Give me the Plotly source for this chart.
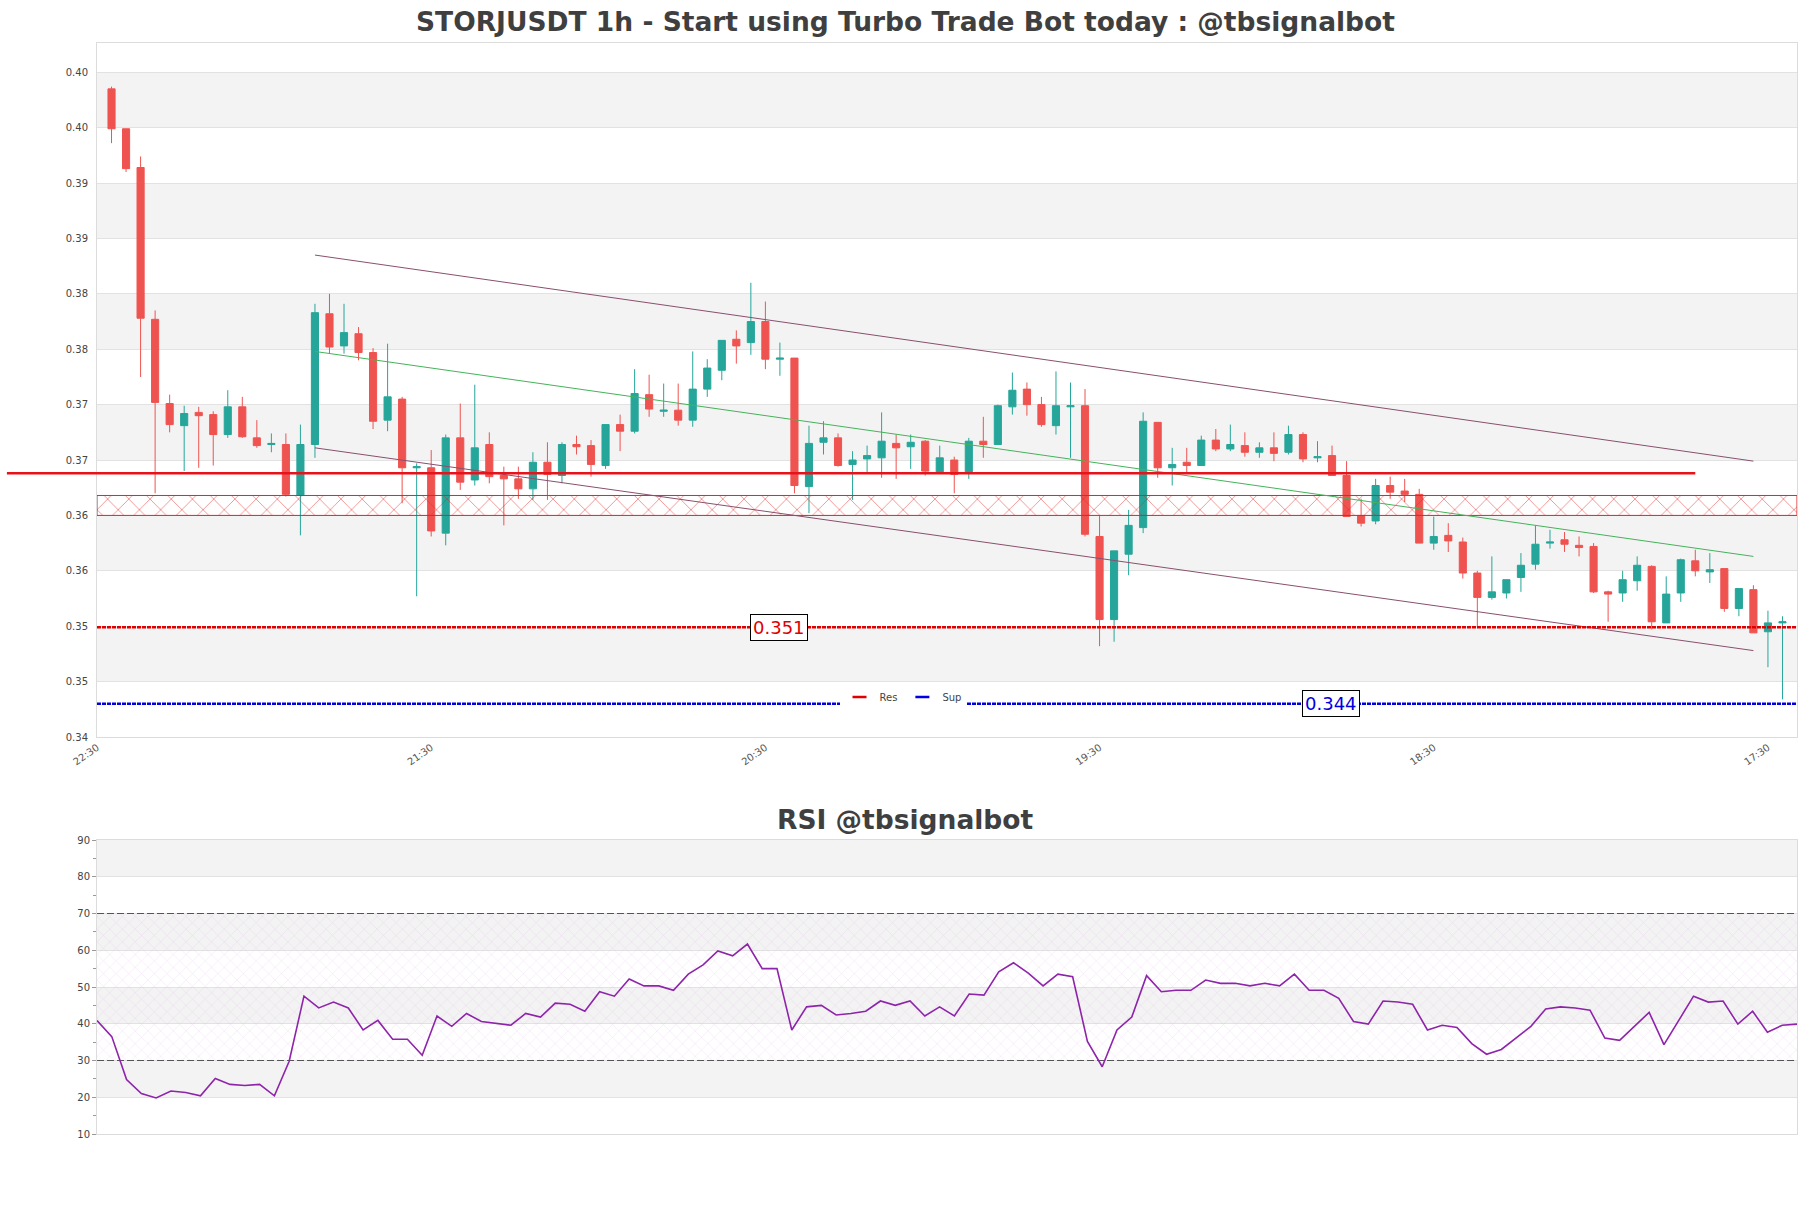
import numpy as np
import pandas as pd
import plotly.graph_objects as go

# ---------------- data ----------------
start_time = "2024-03-04 23:30"
opens = [0.3995,0.3959,0.3924,0.3787,0.3711,0.3691,0.3703,0.3701,0.3683,0.3708,
         0.3680,0.3674,0.3674,0.3628,0.3674,0.3792,0.3763,0.3774,0.3757,0.3696,
         0.3715,0.3653,0.3653,0.3594,0.3680,0.3642,0.3674,0.3646,0.3643,0.3634,
         0.3658,0.3646,0.3674,0.3673,0.3655,0.3692,0.3686,0.3719,0.3704,0.3705,
         0.3696,0.3724,0.3741,0.3769,0.3766,0.3785,0.3751,0.3752,0.3636,0.3676,
         0.3680,0.3656,0.3661,0.3662,0.3675,0.3672,0.3677,0.3649,0.3660,0.3648,
         0.3677,0.3674,0.3708,0.3724,0.3710,0.3691,0.3708,0.3709,0.3591,0.3516,
         0.3575,0.3599,0.3694,0.3653,0.3658,0.3655,0.3678,0.3670,0.3673,0.3667,
         0.3671,0.3667,0.3683,0.3662,0.3664,0.3646,0.3610,0.3605,0.3637,0.3632,
         0.3629,0.3585,0.3592,0.3586,0.3558,0.3536,0.3540,0.3554,0.3566,0.3585,
         0.3588,0.3583,0.3582,0.3541,0.3540,0.3551,0.3564,0.3513,0.3540,0.3569,
         0.3559,0.3562,0.3526,0.3543,0.3505,0.3513]
highs = [0.3997,0.3959,0.3934,0.3795,0.3719,0.3709,0.3708,0.3704,0.3723,0.3717,
         0.3696,0.3684,0.3684,0.3692,0.3801,0.3810,0.3801,0.3780,0.3761,0.3765,
         0.3717,0.3657,0.3669,0.3683,0.3711,0.3728,0.3685,0.3654,0.3654,0.3667,
         0.3676,0.3676,0.3682,0.3678,0.3692,0.3701,0.3742,0.3737,0.3729,0.3729,
         0.3758,0.3751,0.3768,0.3777,0.3820,0.3803,0.3766,0.3752,0.3691,0.3695,
         0.3684,0.3668,0.3673,0.3703,0.3683,0.3683,0.3678,0.3673,0.3663,0.3680,
         0.3699,0.3710,0.3739,0.3730,0.3717,0.3740,0.3730,0.3724,0.3610,0.3578,
         0.3615,0.3703,0.3694,0.3671,0.3671,0.3682,0.3688,0.3692,0.3685,0.3676,
         0.3685,0.3691,0.3685,0.3677,0.3673,0.3659,0.3625,0.3643,0.3645,0.3643,
         0.3634,0.3609,0.3603,0.3590,0.3560,0.3573,0.3552,0.3576,0.3601,0.3597,
         0.3595,0.3591,0.3585,0.3542,0.3560,0.3573,0.3565,0.3555,0.3571,0.3579,
         0.3576,0.3562,0.3544,0.3547,0.3524,0.3519]
lows = [0.3946,0.3920,0.3735,0.3630,0.3685,0.3650,0.3653,0.3655,0.3680,0.3680,
        0.3671,0.3667,0.3627,0.3592,0.3662,0.3756,0.3756,0.3750,0.3688,0.3686,
        0.3621,0.3537,0.3591,0.3583,0.3633,0.3637,0.3639,0.3601,0.3625,0.3624,
        0.3624,0.3639,0.3665,0.3645,0.3652,0.3668,0.3684,0.3699,0.3699,0.3691,
        0.3690,0.3717,0.3732,0.3747,0.3755,0.3742,0.3736,0.3630,0.3612,0.3665,
        0.3654,0.3624,0.3648,0.3644,0.3643,0.3652,0.3646,0.3649,0.3630,0.3643,
        0.3662,0.3674,0.3701,0.3700,0.3690,0.3683,0.3662,0.3591,0.3492,0.3496,
        0.3556,0.3594,0.3644,0.3637,0.3649,0.3655,0.3668,0.3668,0.3663,0.3662,
        0.3659,0.3665,0.3658,0.3658,0.3646,0.3609,0.3600,0.3602,0.3625,0.3622,
        0.3585,0.3579,0.3577,0.3553,0.3510,0.3534,0.3535,0.3541,0.3561,0.3580,
        0.3577,0.3573,0.3540,0.3514,0.3532,0.3542,0.3507,0.3513,0.3532,0.3555,
        0.3549,0.3523,0.3519,0.3504,0.3473,0.3444]
closes = [0.3959,0.3923,0.3788,0.3712,0.3692,0.3702,0.3700,0.3683,0.3708,0.3681,
          0.3673,0.3675,0.3629,0.3674,0.3793,0.3762,0.3775,0.3757,0.3695,0.3717,
          0.3653,0.3654,0.3596,0.3680,0.3640,0.3671,0.3645,0.3643,0.3634,0.3658,
          0.3647,0.3674,0.3672,0.3656,0.3692,0.3686,0.3720,0.3706,0.3705,0.3696,
          0.3724,0.3743,0.3768,0.3763,0.3785,0.3751,0.3752,0.3637,0.3675,0.3680,
          0.3655,0.3660,0.3664,0.3677,0.3671,0.3676,0.3650,0.3662,0.3647,0.3677,
          0.3674,0.3709,0.3723,0.3710,0.3692,0.3709,0.3709,0.3593,0.3516,0.3578,
          0.3601,0.3695,0.3653,0.3656,0.3655,0.3678,0.3670,0.3674,0.3667,0.3671,
          0.3666,0.3683,0.3661,0.3663,0.3646,0.3609,0.3603,0.3637,0.3631,0.3629,
          0.3585,0.3591,0.3587,0.3558,0.3536,0.3541,0.3552,0.3565,0.3584,0.3586,
          0.3584,0.3581,0.3541,0.3539,0.3552,0.3565,0.3514,0.3539,0.3570,0.3560,
          0.3561,0.3526,0.3544,0.3504,0.3513,0.3514]
rsi = [40.9,36.5,24.8,21.0,19.8,21.7,21.3,20.4,25.1,23.5,
       23.2,23.5,20.4,29.8,47.5,44.3,45.9,44.3,38.3,40.9,
       35.8,35.8,31.4,42.1,39.3,42.8,40.6,40.2,39.6,42.8,
       41.8,45.6,45.3,43.4,48.7,47.5,52.2,50.3,50.3,49.1,
       53.5,56.0,59.8,58.5,61.7,55.0,55.0,38.3,44.6,45.0,
       42.4,42.8,43.4,46.2,45.0,46.2,42.1,44.6,42.1,48.1,
       47.8,54.1,56.6,53.8,50.3,53.5,52.8,35.2,28.3,38.3,
       41.8,53.1,48.7,49.1,49.1,51.9,51.0,51.0,50.3,51.0,
       50.3,53.5,49.1,49.1,46.9,40.6,39.9,46.2,45.9,45.3,
       38.3,39.6,39.0,34.6,31.7,33.0,36.1,39.3,44.0,44.6,
       44.3,43.7,36.1,35.5,39.3,43.1,34.3,40.9,47.5,45.9,
       46.2,39.9,43.4,37.7,39.6,39.9]

y_tick_vals = [0.341,0.346,0.351,0.356,0.361,0.366,0.371,0.376,0.381,0.386,0.391,0.396,0.401]
y_tick_text = ["0.34","0.35","0.35","0.36","0.36","0.37","0.37","0.38","0.38","0.39","0.39","0.40","0.40"]
x_tick_text = ["22:30","21:30","20:30","19:30","18:30","17:30"]
rsi_tick_vals = [10,20,30,40,50,60,70,80,90]

res_level, res_label = 0.3509, "0.351"
sup_level, sup_label = 0.3440, "0.344"
zone_low, zone_high = 0.3610, 0.3628
hline_level = 0.3648
# trend channel: (candle index, price)
upper_line = [(14, 0.3845), (113, 0.3659)]
lower_line = [(14, 0.3671), (113, 0.3488)]
mid_line = [(14, 0.3758), (113, 0.3573)]

# ---------------- build ----------------
times = pd.date_range(start_time, periods=len(opens), freq="h")
hour = pd.Timedelta(hours=1)
x0_main = times[0] - hour
x1_main = times[-1] + hour

C_UP, C_DN = "#26a69a", "#ef5350"
FONT = "DejaVu Sans"
GRID = "#e2e2e2"
BAND = "#f3f3f3"

fig = go.Figure()

fig.add_trace(go.Candlestick(
    x=times, open=opens, high=highs, low=lows, close=closes,
    increasing=dict(line=dict(color=C_UP, width=1), fillcolor=C_UP),
    decreasing=dict(line=dict(color=C_DN, width=1), fillcolor=C_DN),
    showlegend=False, xaxis="x", yaxis="y", hoverinfo="skip"))

# hatched zone
fig.add_trace(go.Scatter(
    x=[x0_main, x1_main, x1_main, x0_main, x0_main],
    y=[zone_low, zone_low, zone_high, zone_high, zone_low],
    mode="lines", line=dict(color="#e52222", width=1),
    fill="toself", fillcolor="rgba(0,0,0,0)",
    fillpattern=dict(shape="x", fgcolor="#e52222", bgcolor="rgba(255,255,255,0)", size=15, solidity=0.12),
    showlegend=False, hoverinfo="skip"))

# trend lines
for pts, col in [(upper_line, "#8a4f6e"), (lower_line, "#8a4f6e"), (mid_line, "#45b35a")]:
    fig.add_trace(go.Scatter(x=[times[pts[0][0]], times[pts[1][0]]], y=[pts[0][1], pts[1][1]],
                             mode="lines", line=dict(color=col, width=1), showlegend=False, hoverinfo="skip"))

# res / sup dotted lines
fig.add_trace(go.Scatter(x=[x0_main, x1_main], y=[res_level, res_level], mode="lines",
                         line=dict(color="#e00000", width=2.5, dash="4px,1px"), showlegend=False, hoverinfo="skip"))
fig.add_trace(go.Scatter(x=[x0_main, x1_main], y=[sup_level, sup_level], mode="lines",
                         line=dict(color="#0000e0", width=2.5, dash="4px,1px"), showlegend=False, hoverinfo="skip"))
# legend entries (short line symbols)
fig.add_trace(go.Scatter(x=[None], y=[None], mode="markers", name="Res",
                         marker=dict(symbol="line-ew", size=10, line=dict(color="#e00000", width=2.5))))
fig.add_trace(go.Scatter(x=[None], y=[None], mode="markers", name="Sup",
                         marker=dict(symbol="line-ew", size=10, line=dict(color="#0000e0", width=2.5))))

# RSI
fig.add_trace(go.Scatter(
    x=[times[0], times[-1], times[-1], times[0], times[0]], y=[30, 30, 70, 70, 30],
    mode="none", fill="toself", fillcolor="rgba(0,0,0,0)",
    fillpattern=dict(shape="x", fgcolor="rgba(200,140,215,0.5)", bgcolor="rgba(255,255,255,0)", size=9, solidity=0.12),
    xaxis="x2", yaxis="y2", showlegend=False, hoverinfo="skip"))
for lvl in (30, 70):
    fig.add_trace(go.Scatter(x=[times[0], times[-1]], y=[lvl, lvl], mode="lines",
                             line=dict(color="#555555", width=1.2, dash="7px,3px"),
                             xaxis="x2", yaxis="y2", showlegend=False, hoverinfo="skip"))
fig.add_trace(go.Scatter(x=times, y=rsi, mode="lines", line=dict(color="#8e24aa", width=1.6),
                         xaxis="x2", yaxis="y2", showlegend=False, hoverinfo="skip"))

# bands
shapes = []
for k in range(1, len(y_tick_vals) - 1, 2):
    shapes.append(dict(type="rect", xref="x domain", yref="y", x0=0, x1=1,
                       y0=y_tick_vals[k], y1=y_tick_vals[k + 1], fillcolor=BAND, line_width=0, layer="below"))
for k in range(1, len(rsi_tick_vals) - 1, 2):
    shapes.append(dict(type="rect", xref="x2 domain", yref="y2", x0=0, x1=1,
                       y0=rsi_tick_vals[k], y1=rsi_tick_vals[k + 1], fillcolor=BAND, line_width=0, layer="below"))
# thick red horizontal level
span = (x1_main - x0_main)
hl_start = x0_main - 6.2 * hour
hl_end = times[109]
shapes.append(dict(type="line", xref="paper", yref="y",
                   x0=(hl_start - x0_main) / span, x1=(hl_end - x0_main) / span,
                   y0=hline_level, y1=hline_level, line=dict(color="#e8121a", width=2.5), layer="above"))

tick_times = [x0_main + pd.Timedelta(hours=23 * k) for k in range(len(x_tick_text))]

# figure fills the whole page (body margin removed below)
W, H = 1811, 1208
PL, PR, PT, PB = 97, 1797, 43, 1134   # plot area edges in figure px
main_b, rsi_t = 737, 840
plot_w = PR - PL
plot_h = PB - PT
main_bottom = (PB - main_b) / plot_h
rsi_top = (PB - rsi_t) / plot_h

def px_x(xp):  # page x -> paper x
    return (xp - PL) / plot_w

def px_y(yp):  # page y -> paper y
    return (PB - yp) / plot_h

fig.update_layout(
    width=W, height=H,
    margin=dict(l=PL, r=W - PR, t=PT, b=H - PB, autoexpand=False),
    paper_bgcolor="white", plot_bgcolor="white",
    font=dict(family=FONT, color="#444444"),
    title=dict(text="<b>STORJUSDT 1h - Start using Turbo Trade Bot today : @tbsignalbot</b>",
               x=px_x(905.5), xref="paper", xanchor="center", y=1 - 22 / H, yanchor="middle",
               font=dict(size=26.5, color="#3f3f3f", family=FONT)),
    shapes=shapes,
    showlegend=True,
    legend=dict(orientation="h", x=px_x(903), xanchor="center", y=px_y(697),
                yanchor="middle", font=dict(size=10), bgcolor="white", itemwidth=30),
    xaxis=dict(domain=[0, 1], anchor="y", type="date", range=[x0_main, x1_main],
               rangeslider=dict(visible=False), showgrid=False,
               tickvals=tick_times, ticktext=x_tick_text, tickangle=-35,
               tickfont=dict(size=10, color="#555555"),
               showline=True, mirror=True, linecolor="#dcdcdc", linewidth=1, ticks=""),
    yaxis=dict(domain=[main_bottom, 1], anchor="x", range=[0.341, 0.40364],
               tickvals=y_tick_vals, ticktext=y_tick_text, tickfont=dict(size=10, color="#444444"),
               gridcolor=GRID, gridwidth=1, zeroline=False,
               showline=True, mirror=True, linecolor="#dcdcdc",
               ticks="outside", ticklen=6, tickcolor="rgba(0,0,0,0)"),
    xaxis2=dict(domain=[0, 1], anchor="y2", type="date", range=[times[0], times[-1]],
                showticklabels=False, showgrid=False, showline=True, mirror=True, linecolor="#dcdcdc"),
    yaxis2=dict(domain=[0, rsi_top], anchor="x2", range=[10, 90], tickvals=rsi_tick_vals,
                tickfont=dict(size=10, color="#444444"), gridcolor=GRID, zeroline=False,
                showline=True, mirror=True, linecolor="#dcdcdc",
                ticks="outside", ticklen=4, tickcolor="#999999",
                minor=dict(ticks="outside", ticklen=3, tickcolor="#999999", dtick=5, showgrid=False)),
    annotations=[
        dict(text="<b>RSI @tbsignalbot</b>", xref="paper", yref="paper",
             x=px_x(905.5), y=px_y(819), xanchor="center", yanchor="middle",
             showarrow=False, font=dict(size=26.5, color="#3f3f3f", family=FONT)),
        dict(text=res_label, x=times[46] - 0.05 * hour, y=res_level, xref="x", yref="y", showarrow=False,
             font=dict(size=18, color="#e00000"), bgcolor="white", bordercolor="black", borderwidth=1, borderpad=2),
        dict(text=sup_label, x=times[84] - 0.1 * hour, y=sup_level, xref="x", yref="y", showarrow=False,
             font=dict(size=18, color="#0000e0"), bgcolor="white", bordercolor="black", borderwidth=1, borderpad=2),
    ],
)

fig.write_html("out.html", config={"displayModeBar": False},
               post_script="document.body.style.margin='0';document.body.style.overflow='hidden';")
